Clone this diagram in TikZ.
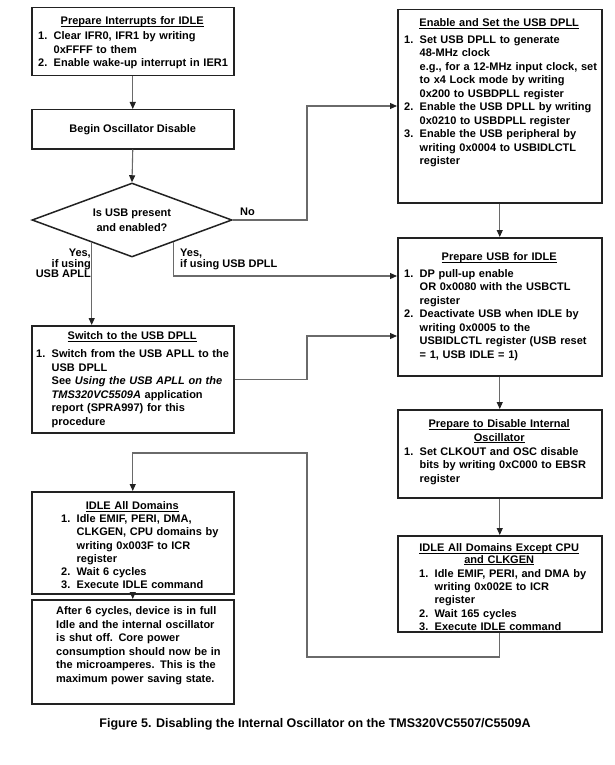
\documentclass[tikz,border=0pt]{standalone}
\usepackage{fontspec}
\setmainfont{Liberation Sans}
\usetikzlibrary{shapes.geometric,arrows.meta,calc}
\newlength\lm
\newlength\nw
\setlength\nw{15.5pt}
\newcommand\fs{\fontsize{11}{13.5}\selectfont\bfseries\parskip=0pt\parindent=0pt}
\newcommand\fsa{\fontsize{11}{13.3}\selectfont\bfseries\parskip=0pt\parindent=0pt}
\newcommand\fsb{\fontsize{11}{13.2}\selectfont\bfseries\parskip=0pt\parindent=0pt}
\newcommand\ulx[1]{\setbox0\hbox{#1}\rlap{\rule[-1.9pt]{\wd0}{0.8pt}}\box0}
\newcommand\Tt[1]{\par\noindent\makebox[\hsize][c]{\ulx{#1}}}
\newcommand\Ni[2]{\par\noindent\hspace*{\lm}\makebox[\nw][l]{#1}#2}
\newcommand\Nc[1]{\par\noindent\hspace*{\lm}\hspace*{\nw}#1}
\newcommand\Gap[1]{\par\vspace*{#1}}
\definecolor{bordc}{HTML}{222222}
\definecolor{connc}{HTML}{6A6A6A}
\tikzset{
  box/.style={draw=bordc, line width=1.5pt, rectangle, inner sep=0pt, anchor=north west},
  conn/.style={draw=connc, line width=1.1pt},
  arr/.style={conn, -{Triangle[length=7pt,width=6pt,color=bordc]}},
  txt/.style={font=\fs, inner sep=0pt, align=left, anchor=north west, text width=#1},
  lbl/.style={font=\fontsize{11}{10.5}\selectfont\bfseries, inner sep=0pt},
}
\begin{document}
\begin{tikzpicture}[x=1pt,y=-1pt]
\useasboundingbox (0,0) rectangle (615,765);
% ---- boxes
\node[box, minimum width=202pt, minimum height=68pt] (intr) at (31,7) {};
\node[box, minimum width=202pt, minimum height=39pt] (begin) at (31,109) {};
\node[shape=diamond, draw=bordc, line width=1.5pt, minimum width=200pt, minimum height=74pt,
      inner sep=0pt, shape aspect=2.7, font=\fontsize{11}{13.5}\selectfont\bfseries, align=center]
      (dia) at (132,220) {Is USB present\\[1.5pt]and enabled?};
\node[box, minimum width=202pt, minimum height=107pt] (switch) at (31,325) {};
\node[box, minimum width=202pt, minimum height=102pt] (idleall) at (31,491) {};
\node[box, minimum width=202pt, minimum height=104pt] (after) at (31,599) {};
\node[box, minimum width=204pt, minimum height=193pt] (enable) at (397,9) {};
\node[box, minimum width=204pt, minimum height=138pt] (prepusb) at (397,237) {};
\node[box, minimum width=204pt, minimum height=88pt] (prepdis) at (397,409) {};
\node[box, minimum width=204pt, minimum height=96pt] (except) at (397,535) {};
% ---- texts
\node[txt=202pt] (tintr) at ($(intr.north west)+(0,4)$) {\setlength\lm{7pt}%
  \Tt{Prepare Interrupts for IDLE}\Gap{1.5pt}%
  \Ni{1.}{Clear IFR0, IFR1 by writing}\Nc{0xFFFF to them}%
  \Ni{2.}{Enable wake-up interrupt in IER1}};
\node[font=\fs, inner sep=0pt] (tbegin) at (begin.center) {Begin Oscillator Disable};
\node[txt=204pt] (tenable) at ($(enable.north west)+(0,4)$) {\setlength\lm{7pt}%
  \Tt{Enable and Set the USB DPLL}\Gap{3pt}%
  \Ni{1.}{Set USB DPLL to generate}\Nc{48-MHz clock}%
  \Nc{e.g., for a 12-MHz input clock, set}\Nc{to x4 Lock mode by writing}%
  \Nc{0x200 to USBDPLL register}%
  \Ni{2.}{Enable the USB DPLL by writing}\Nc{0x0210 to USBDPLL register}%
  \Ni{3.}{Enable the USB peripheral by}\Nc{writing 0x0004 to USBIDLCTL}\Nc{register}};
\node[txt=204pt] (tprepusb) at ($(prepusb.north west)+(0,10)$) {\setlength\lm{7pt}%
  \Tt{Prepare USB for IDLE}\Gap{3pt}%
  \Ni{1.}{DP pull-up enable}\Nc{OR 0x0080 with the USBCTL}\Nc{register}%
  \Ni{2.}{Deactivate USB when IDLE by}\Nc{writing 0x0005 to the}%
  \Nc{USBIDLCTL register (USB reset}\Nc{= 1, USB IDLE = 1)}};
\node[txt=202pt] (tswitch) at ($(switch.north west)+(0,1)$) {\setlength\lm{5pt}%
  \Tt{Switch to the USB DPLL}\Gap{4.5pt}%
  \Ni{1.}{Switch from the USB APLL to the}\Nc{USB DPLL}%
  \Nc{See \textit{Using the USB APLL on the}}\Nc{\textit{TMS320VC5509A} application}%
  \Nc{report (SPRA997) for this}\Nc{procedure}};
\node[txt=204pt] (tprepdis) at ($(prepdis.north west)+(0,5)$) {\setlength\lm{7pt}%
  \Tt{Prepare to Disable Internal}\Tt{Oscillator}\Gap{0.5pt}%
  \Ni{1.}{Set CLKOUT and OSC disable}\Nc{bits by writing 0xC000 to EBSR}\Nc{register}};
\node[txt=204pt, font=\fsa] (texcept) at ($(except.north west)+(0,3)$) {\setlength\lm{22pt}%
  \Tt{IDLE All Domains Except CPU}\Gap{-1.5pt}\Tt{and CLKGEN}\Gap{0.5pt}%
  \Ni{1.}{Idle EMIF, PERI, and DMA by}\Nc{writing 0x002E to ICR}\Nc{register}%
  \Ni{2.}{Wait 165 cycles}\Ni{3.}{Execute IDLE command}};
\node[txt=202pt, font=\fsb] (tidleall) at ($(idleall.north west)+(0,5)$) {\setlength\lm{30pt}%
  \Tt{IDLE All Domains}%
  \Ni{1.}{Idle EMIF, PERI, DMA,}\Nc{CLKGEN, CPU domains by}%
  \Nc{writing 0x003F to ICR}\Nc{register}%
  \Ni{2.}{Wait 6 cycles}\Ni{3.}{Execute IDLE command}};
\node[txt=202pt] (tafter) at ($(after.north west)+(0,2)$) {\setlength\lm{25pt}\setlength\nw{0pt}%
  \Nc{After 6 cycles, device is in full}\Nc{Idle and the internal oscillator}%
  \Nc{is shut off. Core power}\Nc{consumption should now be in}%
  \Nc{the microamperes. This is the}\Nc{maximum power saving state.}};
% ---- labels
\node[lbl, anchor=north east, align=right] (lapll) at (91,249) {Yes,\\if using\\USB APLL};
\node[lbl, anchor=north west, align=left, font=\fontsize{11}{11}\selectfont\bfseries] (ldpll) at (180,249) {Yes,\\if using USB DPLL};
\node[lbl, anchor=north west] (lno) at (240,208) {No};
\node[font=\fontsize{12.5}{15}\selectfont\bfseries, inner sep=0pt] (cap) at (315,724)
  {Figure 5. Disabling the Internal Oscillator on the TMS320VC5507/C5509A};
% ---- helper coordinates
\coordinate (pa) at ($(dia.west)!0.6!(dia.south)$);
\coordinate (pd) at ($(dia.south)!0.41!(dia.east)$);
\coordinate (nojog) at (307,106);
\coordinate (dpin) at (397,276);
\coordinate (swjog) at (307,336);
\coordinate (lpr) at (307,657);
\coordinate (lpt) at (307,453);
% ---- connectors
\draw[arr] (intr.south) -- (begin.north);
\draw[arr] (begin.south) -- (dia.north);
\draw[arr] (dia.east) -- (nojog |- dia.east) -- (nojog) -- (nojog -| enable.west);
\draw[arr] (pa) -- (pa |- switch.north);
\draw[arr] (pd) |- (dpin -| prepusb.west);
\draw[arr] (switch.east) -- (swjog |- switch.east) -- (swjog) -- (swjog -| prepusb.west);
\draw[arr] (enable.south) -- (prepusb.north);
\draw[arr] (prepusb.south) -- (prepdis.north);
\draw[arr] (prepdis.south) -- (except.north);
\draw[arr] (except.south) -- (except.south |- lpr) -- (lpr) -- (lpt) -- (lpt -| idleall.north) -- (idleall.north);
\draw[arr] (idleall.south) -- (after.north);
\end{tikzpicture}
\end{document}
